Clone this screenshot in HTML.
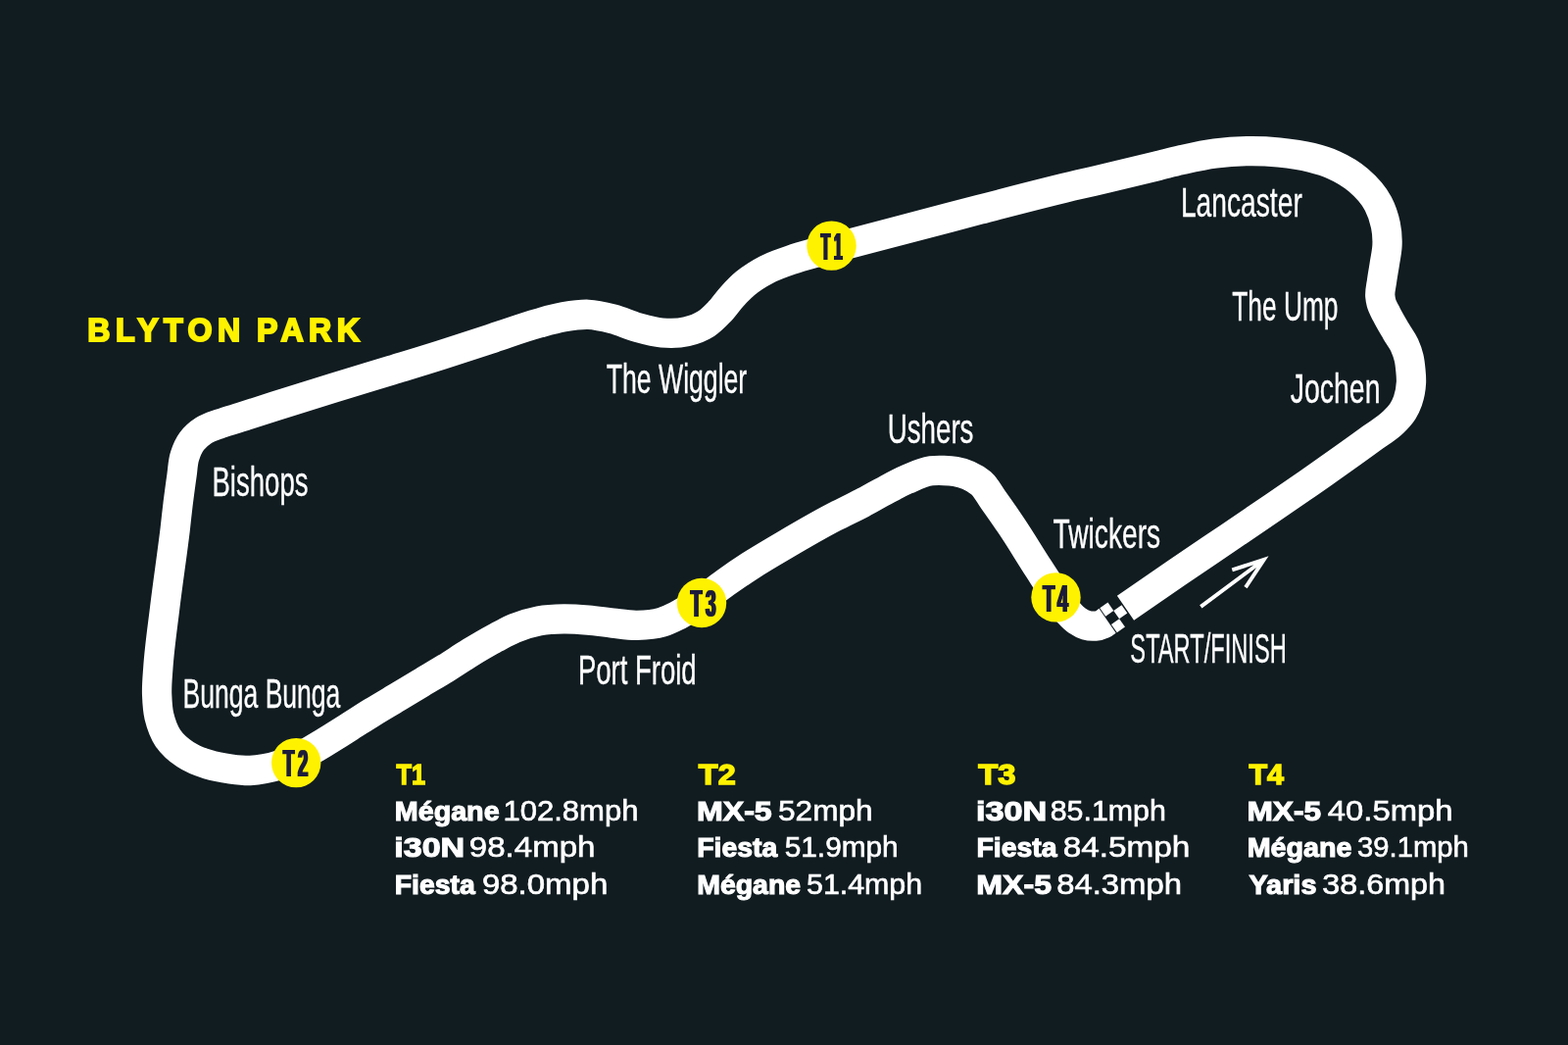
<!DOCTYPE html>
<html lang="en">
<head>
<meta charset="utf-8">
<title>Blyton Park</title>
<style>
html,body{margin:0;padding:0;background:#111c21;}
body{width:1600px;height:1066px;overflow:hidden;}
svg{display:block;will-change:transform;}
text{font-family:"Liberation Sans",sans-serif;}
.lab{fill:#fff;font-weight:400;}
.ttl{fill:#fff200;font-weight:700;}
.num{fill:#1b1b3a;font-weight:700;}
.hd{fill:#fff200;font-weight:700;}
.nm{fill:#fff;font-weight:700;}
.vl{fill:#fff;font-weight:400;}
</style>
</head>
<body>
<svg width="1600" height="1066" viewBox="0 0 1600 1066">
<defs><filter id="hb" x="-10%" y="-10%" width="120%" height="120%"><feMorphology operator="dilate" radius="1 0"/></filter></defs>
<rect width="1600" height="1066" fill="#111c21"/>
<!-- circuit -->
<path d="M1148.5,620.3 C1165.7,608.5 1182.8,596.6 1200.0,584.8 C1218.0,572.5 1236.0,560.4 1254.0,548.2 C1269.3,537.8 1284.7,527.5 1300.0,517.0 C1316.7,505.6 1333.4,494.1 1350.0,482.5 C1366.8,470.7 1383.5,458.9 1400.0,446.8 C1407.3,441.4 1415.5,436.9 1421.9,430.5 C1425.4,427.1 1428.9,423.5 1431.5,419.4 C1433.6,416.1 1435.2,412.4 1436.5,408.8 C1438.6,402.8 1439.7,396.3 1440.0,390.0 C1440.2,385.9 1439.8,381.6 1439.4,377.5 C1439.0,373.2 1438.6,368.9 1437.6,364.8 C1436.6,360.5 1435.0,356.2 1433.2,352.2 C1430.9,347.2 1427.4,342.8 1424.6,338.0 C1421.3,332.4 1417.9,326.8 1415.0,321.0 C1413.0,317.1 1410.6,313.2 1409.5,309.0 C1408.9,306.7 1408.5,304.3 1408.3,302.0 C1407.9,297.0 1409.3,292.0 1410.0,287.0 C1410.8,280.6 1412.1,274.3 1413.0,268.0 C1413.9,262.1 1415.3,256.2 1415.5,250.3 C1415.8,243.4 1415.3,236.3 1413.9,229.6 C1412.4,222.2 1409.9,214.6 1406.4,207.9 C1401.5,198.6 1393.8,190.3 1385.8,183.5 C1378.5,177.3 1369.8,172.2 1361.0,168.3 C1353.7,165.0 1345.9,162.8 1338.1,160.8 C1327.3,158.0 1316.1,156.6 1305.0,155.5 C1295.1,154.5 1285.1,154.0 1275.2,154.1 C1263.5,154.2 1251.6,155.0 1240.0,156.5 C1228.2,158.0 1216.6,160.7 1205.0,163.3 C1196.6,165.2 1188.3,167.5 1180.0,169.5 C1171.7,171.5 1163.3,173.5 1155.0,175.5 C1146.7,177.5 1138.3,179.5 1130.0,181.5 C1120.2,183.8 1110.4,186.0 1100.6,188.3 C1066.9,196.2 1033.5,205.1 1000.0,213.7 C966.7,222.3 933.5,231.2 900.2,239.9 C883.1,244.4 865.9,248.9 848.8,253.4 C842.8,255.0 836.7,256.4 830.7,258.1 C822.7,260.3 814.7,262.5 806.9,265.2 C798.4,268.1 789.8,271.1 781.9,275.2 C774.4,279.1 767.1,283.6 760.6,289.0 C755.6,293.1 751.2,297.9 746.8,302.7 C742.4,307.5 738.8,313.1 734.3,317.8 C730.0,322.3 725.6,327.0 720.5,330.3 C714.6,334.1 707.4,336.7 700.5,338.3 C692.5,340.2 683.7,340.2 675.4,339.5 C667.0,338.8 658.6,336.3 650.4,334.0 C641.9,331.6 633.8,327.5 625.3,325.3 C617.1,323.2 608.7,321.1 600.3,320.8 C592.0,320.5 583.5,321.9 575.2,323.3 C566.8,324.8 558.5,327.2 550.2,329.5 C533.3,334.1 516.8,340.4 500.1,345.8 C483.4,351.2 466.7,356.8 450.0,362.1 C433.4,367.4 416.7,372.4 400.0,377.5 C380.0,383.6 360.0,389.5 340.0,395.7 C320.0,401.9 300.0,408.1 280.0,414.5 C268.4,418.2 256.9,422.0 245.3,425.7 C238.5,427.8 231.7,429.6 225.0,432.0 C219.2,434.1 213.1,435.7 208.0,439.0 C203.5,441.9 199.0,445.7 195.8,450.0 C192.5,454.4 190.2,460.0 188.5,465.3 C186.5,471.6 186.5,478.4 185.5,485.0 C184.1,495.0 182.7,505.0 181.5,515.0 C180.5,523.3 179.6,531.7 178.7,540.0 C175.5,566.7 171.4,593.3 168.2,620.0 C165.8,640.0 162.8,660.1 161.4,680.2 C160.8,689.4 159.8,698.6 160.1,707.7 C160.4,715.3 160.6,723.2 162.4,730.6 C164.3,738.3 167.0,746.4 171.4,752.9 C175.8,759.4 182.4,765.1 189.0,769.5 C196.0,774.2 204.2,777.3 212.3,779.8 C219.7,782.1 227.6,783.4 235.3,784.4 C241.9,785.3 248.6,786.2 255.3,786.0 C260.2,785.8 265.2,785.1 270.0,784.2 C275.1,783.2 280.1,781.9 285.0,780.3 C290.8,778.4 296.5,776.1 302.0,773.5 C306.8,771.3 311.4,768.7 316.0,766.2 C320.7,763.6 325.4,760.8 330.0,758.0 C338.4,753.0 346.7,747.6 355.0,742.4 C363.4,737.1 371.6,731.7 380.0,726.5 C388.3,721.4 396.7,716.5 405.0,711.5 C413.3,706.5 421.7,701.5 430.0,696.5 C438.3,691.5 446.7,686.6 455.0,681.5 C463.4,676.3 471.6,670.6 480.0,665.5 C488.2,660.5 496.5,655.6 505.0,651.0 C511.6,647.5 518.1,643.7 525.0,640.9 C533.1,637.6 541.6,635.0 550.1,633.4 C558.3,631.9 566.8,631.5 575.1,631.4 C583.5,631.3 591.9,631.9 600.2,632.6 C608.6,633.3 616.9,634.7 625.2,635.6 C633.6,636.5 641.9,638.0 650.3,637.8 C658.6,637.6 667.3,637.1 675.3,634.7 C680.3,633.2 685.3,630.9 690.0,628.5 C694.5,626.3 698.7,623.6 703.0,621.0 C707.4,618.3 711.7,615.4 715.9,612.5 C724.2,606.8 731.8,600.3 740.0,594.5 C748.2,588.7 756.5,583.0 765.0,577.5 C776.6,570.0 788.6,563.0 800.6,556.0 C817.1,546.3 833.7,536.6 850.7,527.7 C860.4,522.6 870.3,518.1 880.0,513.0 C886.7,509.4 893.3,505.6 900.0,502.0 C908.3,497.6 916.4,492.9 925.0,489.2 C933.1,485.7 941.4,481.4 950.1,480.3 C954.3,479.8 958.7,479.9 963.0,480.0 C967.0,480.1 971.1,480.3 975.0,481.0 C979.4,481.8 983.9,483.0 988.0,484.8 C992.6,486.8 997.2,489.5 1001.0,492.8 C1006.3,497.4 1009.5,504.3 1013.7,510.1 C1019.9,518.8 1026.0,527.5 1032.0,536.4 C1041.7,550.8 1050.5,565.7 1060.0,580.3 C1066.6,590.5 1073.0,600.8 1080.0,610.7 C1083.3,615.3 1086.2,620.3 1090.0,624.5 C1092.8,627.5 1095.6,630.7 1099.0,633.0 C1101.8,634.9 1104.8,636.7 1108.0,637.6 C1111.0,638.5 1114.4,638.9 1117.5,638.6 C1120.1,638.4 1122.9,637.7 1125.2,636.6 C1127.0,635.7 1128.5,634.3 1130.1,633.2" fill="none" stroke="#fff" stroke-width="30.3" stroke-linejoin="round" stroke-linecap="butt"/>
<!-- start/finish chequers -->
<g transform="translate(1139.90,608.00) rotate(-35.00)">
<rect x="-21.50" y="0.00" width="10.00" height="10.20" fill="#fff"/>
<rect x="-21.50" y="20.30" width="10.00" height="10.20" fill="#fff"/>
<rect x="-11.50" y="10.20" width="10.00" height="10.10" fill="#fff"/>
</g>
<path d="M1225.3,618.9 L1289.6,571 M1257.3,581.3 L1289.8,570.9 L1271,599.2" fill="none" stroke="#fff" stroke-width="3.9" stroke-linecap="butt" stroke-linejoin="miter"/>
<!-- timing points -->
<circle cx="848.5" cy="250.6" r="25.2" fill="#fff200"/>
<g filter="url(#hb)"><text class="num" transform="translate(836.95,264.80) scale(0.3913,1)" font-size="39"><tspan x="2.17">T</tspan><tspan x="35.81">1</tspan></text></g>
<circle cx="302.2" cy="778.1" r="25.2" fill="#fff200"/>
<g filter="url(#hb)"><text class="num" transform="translate(288.15,792.30) scale(0.4721,1)" font-size="39"><tspan x="1.73">T</tspan><tspan x="33.51">2</tspan></text></g>
<circle cx="716.0" cy="615.0" r="25.2" fill="#fff200"/>
<g filter="url(#hb)"><text class="num" transform="translate(703.85,629.20) scale(0.4845,1)" font-size="39"><tspan x="1.67">T</tspan><tspan x="33.18">3</tspan></text></g>
<circle cx="1077.5" cy="609.4" r="25.2" fill="#fff200"/>
<g filter="url(#hb)"><text class="num" transform="translate(1063.50,623.60) scale(0.4991,1)" font-size="39"><tspan x="1.61">T</tspan><tspan x="31.04">4</tspan></text></g>
<text class="ttl" transform="translate(89.3,347.6) scale(0.96,1)" font-size="33.5" letter-spacing="5.7" stroke="#fff200" stroke-width="2.0" stroke-linejoin="miter">BLYTON <tspan dx="-3.4">PARK</tspan></text>
<!-- corner names -->
<text class="lab" x="216.47" y="505.6" font-size="42.4" textLength="98.01" lengthAdjust="spacingAndGlyphs" stroke="#fff" stroke-width="0.35">Bishops</text>
<text class="lab" x="186.55" y="722.4" font-size="42.4" textLength="160.81" lengthAdjust="spacingAndGlyphs" stroke="#fff" stroke-width="0.35">Bunga Bunga</text>
<text class="lab" x="618.74" y="400.6" font-size="42.4" textLength="143.5" lengthAdjust="spacingAndGlyphs" stroke="#fff" stroke-width="0.35">The Wiggler</text>
<text class="lab" x="1204.92" y="220.5" font-size="42.4" textLength="123.88" lengthAdjust="spacingAndGlyphs" stroke="#fff" stroke-width="0.35">Lancaster</text>
<text class="lab" x="1257.25" y="327.1" font-size="42.4" textLength="108.19" lengthAdjust="spacingAndGlyphs" stroke="#fff" stroke-width="0.35">The Ump</text>
<text class="lab" x="1316.85" y="410.9" font-size="42.4" textLength="91.61" lengthAdjust="spacingAndGlyphs" stroke="#fff" stroke-width="0.35">Jochen</text>
<text class="lab" x="905.7" y="451.75" font-size="42.4" textLength="87.78" lengthAdjust="spacingAndGlyphs" stroke="#fff" stroke-width="0.35">Ushers</text>
<text class="lab" x="1074.51" y="559" font-size="42.4" textLength="109.68" lengthAdjust="spacingAndGlyphs" stroke="#fff" stroke-width="0.35">Twickers</text>
<text class="lab" x="1153.36" y="675.7" font-size="42.4" textLength="159.39" lengthAdjust="spacingAndGlyphs" stroke="#fff" stroke-width="0.35">START/FINISH</text>
<text class="lab" x="589.98" y="697.5" font-size="42.4" textLength="120.64" lengthAdjust="spacingAndGlyphs" stroke="#fff" stroke-width="0.35">Port Froid</text>
<!-- speeds -->
<text class="hd" x="404.55" y="800.3" font-size="29.6" textLength="29.54" lengthAdjust="spacingAndGlyphs" stroke="#fff200" stroke-width="1.4">T1</text>
<text class="nm" x="402.78" y="837.3" font-size="27.7" textLength="106.86" lengthAdjust="spacingAndGlyphs" stroke="#fff" stroke-width="1.1">Mégane</text>
<text class="vl" x="513.47" y="837.3" font-size="28.6" textLength="138.03" lengthAdjust="spacingAndGlyphs" stroke="#fff" stroke-width="0.6">102.8mph</text>
<text class="nm" x="402.26" y="874.4" font-size="27.7" textLength="71.98" lengthAdjust="spacingAndGlyphs" stroke="#fff" stroke-width="1.1">i30N</text>
<text class="vl" x="478.81" y="874.4" font-size="28.6" textLength="128.69" lengthAdjust="spacingAndGlyphs" stroke="#fff" stroke-width="0.6">98.4mph</text>
<text class="nm" x="402.81" y="911.5" font-size="27.7" textLength="81.97" lengthAdjust="spacingAndGlyphs" stroke="#fff" stroke-width="1.1">Fiesta</text>
<text class="vl" x="491.92" y="911.5" font-size="28.6" textLength="128.39" lengthAdjust="spacingAndGlyphs" stroke="#fff" stroke-width="0.6">98.0mph</text>
<text class="hd" x="712.88" y="800.3" font-size="29.6" textLength="37.78" lengthAdjust="spacingAndGlyphs" stroke="#fff200" stroke-width="1.4">T2</text>
<text class="nm" x="710.96" y="837.3" font-size="27.7" textLength="76.77" lengthAdjust="spacingAndGlyphs" stroke="#fff" stroke-width="1.1">MX-5</text>
<text class="vl" x="794.04" y="837.3" font-size="28.6" textLength="96.55" lengthAdjust="spacingAndGlyphs" stroke="#fff" stroke-width="0.6">52mph</text>
<text class="nm" x="711.21" y="874.4" font-size="27.7" textLength="81.97" lengthAdjust="spacingAndGlyphs" stroke="#fff" stroke-width="1.1">Fiesta</text>
<text class="vl" x="800.71" y="874.4" font-size="28.6" textLength="115.98" lengthAdjust="spacingAndGlyphs" stroke="#fff" stroke-width="0.6">51.9mph</text>
<text class="nm" x="711.2" y="911.5" font-size="27.7" textLength="105.94" lengthAdjust="spacingAndGlyphs" stroke="#fff" stroke-width="1.1">Mégane</text>
<text class="vl" x="823.09" y="911.5" font-size="28.6" textLength="118.04" lengthAdjust="spacingAndGlyphs" stroke="#fff" stroke-width="0.6">51.4mph</text>
<text class="hd" x="998.17" y="800.3" font-size="29.6" textLength="38.24" lengthAdjust="spacingAndGlyphs" stroke="#fff200" stroke-width="1.4">T3</text>
<text class="nm" x="995.95" y="837.3" font-size="27.7" textLength="72.41" lengthAdjust="spacingAndGlyphs" stroke="#fff" stroke-width="1.1">i30N</text>
<text class="vl" x="1071.73" y="837.3" font-size="28.6" textLength="118.09" lengthAdjust="spacingAndGlyphs" stroke="#fff" stroke-width="0.6">85.1mph</text>
<text class="nm" x="996.5" y="874.4" font-size="27.7" textLength="82.07" lengthAdjust="spacingAndGlyphs" stroke="#fff" stroke-width="1.1">Fiesta</text>
<text class="vl" x="1084.7" y="874.4" font-size="28.6" textLength="129.72" lengthAdjust="spacingAndGlyphs" stroke="#fff" stroke-width="0.6">84.5mph</text>
<text class="nm" x="996.26" y="911.5" font-size="27.7" textLength="76.77" lengthAdjust="spacingAndGlyphs" stroke="#fff" stroke-width="1.1">MX-5</text>
<text class="vl" x="1078.22" y="911.5" font-size="28.6" textLength="127.77" lengthAdjust="spacingAndGlyphs" stroke="#fff" stroke-width="0.6">84.3mph</text>
<text class="hd" x="1274.4" y="800.3" font-size="29.6" textLength="35.52" lengthAdjust="spacingAndGlyphs" stroke="#fff200" stroke-width="1.4">T4</text>
<text class="nm" x="1272.49" y="837.3" font-size="27.7" textLength="75.63" lengthAdjust="spacingAndGlyphs" stroke="#fff" stroke-width="1.1">MX-5</text>
<text class="vl" x="1354.88" y="837.3" font-size="28.6" textLength="127.61" lengthAdjust="spacingAndGlyphs" stroke="#fff" stroke-width="0.6">40.5mph</text>
<text class="nm" x="1272.68" y="874.4" font-size="27.7" textLength="106.86" lengthAdjust="spacingAndGlyphs" stroke="#fff" stroke-width="1.1">Mégane</text>
<text class="vl" x="1385.13" y="874.4" font-size="28.6" textLength="113.62" lengthAdjust="spacingAndGlyphs" stroke="#fff" stroke-width="0.6">39.1mph</text>
<text class="nm" x="1274.47" y="911.5" font-size="27.7" textLength="68.96" lengthAdjust="spacingAndGlyphs" stroke="#fff" stroke-width="1.1">Yaris</text>
<text class="vl" x="1349.31" y="911.5" font-size="28.6" textLength="125.65" lengthAdjust="spacingAndGlyphs" stroke="#fff" stroke-width="0.6">38.6mph</text>
</svg>
</body>
</html>
